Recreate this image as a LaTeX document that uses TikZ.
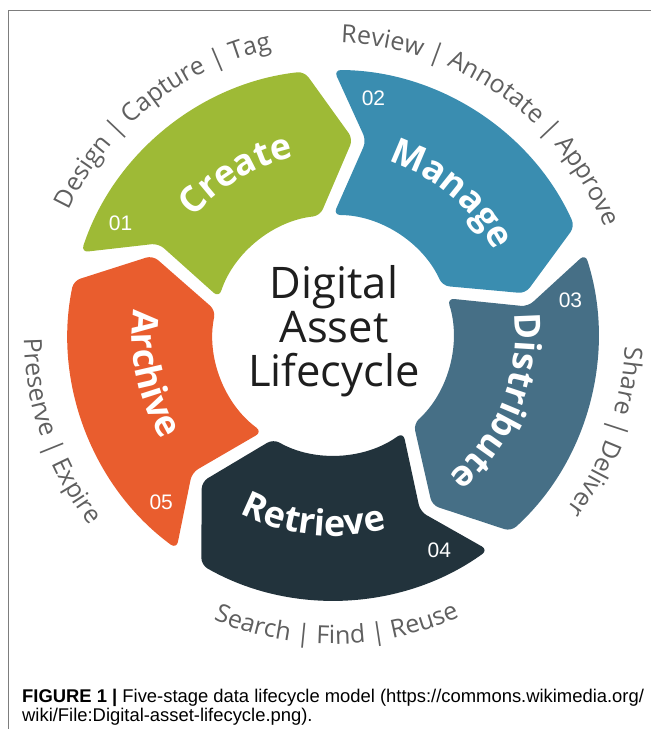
\documentclass[tikz,border=0pt]{standalone}
\usepackage{fontspec}
\usepackage{tikz}
\usetikzlibrary{decorations.text,positioning}

\newfontfamily\opensans{Open Sans}
\newfontfamily\arialsans{Liberation Sans}

\definecolor{creategreen}{RGB}{158,186,54}
\definecolor{manageblue}{RGB}{58,141,176}
\definecolor{distslate}{RGB}{70,111,134}
\definecolor{retrievedark}{RGB}{34,51,60}
\definecolor{archiveorange}{RGB}{233,93,46}
\definecolor{taggray}{RGB}{95,95,95}
\definecolor{titleblack}{RGB}{30,30,30}
\definecolor{framegray}{RGB}{125,125,125}

\newcommand{\namefont}{\opensans\bfseries\fontsize{36}{36}\selectfont\color{white}}
\newcommand{\tagfont}{\opensans\fontsize{25}{25}\selectfont\color{taggray}}

\tikzset{
    stagebox/.style={rounded corners=7pt},
    numlabel/.style={text=white, inner sep=0pt, font=\arialsans\fontsize{21}{21}\selectfont},
    ringtext/.style={decorate, decoration={text along path, text format delimiters={[}{]}, text align=center, text={#1}}},
    captext/.style={inner sep=0pt, anchor=base west, text=black, font=\arialsans\fontsize{18.4}{18.4}\selectfont}
}

\begin{document}
\begin{tikzpicture}[x=1pt,y=1pt]
    \useasboundingbox (0,0) rectangle (651,729);
    % frame
    \draw[framegray, line width=0.8pt] (8,0) -- (8,719) -- (651,719);

    \coordinate (ctr) at (333,394);
    \begin{scope}[shift={(ctr)}]
    % the five arrows
    \foreach \ang/\col/\num [count=\i] in {129/creategreen/01, 57/manageblue/02, -15/distslate/03, -87/retrievedark/04, 201/archiveorange/05}{
        \pgfmathsetmacro{\sa}{\ang+32.8}
        \pgfmathsetmacro{\ea}{\ang-32.8}
        \fill[stagebox, fill=\col] (\sa:265) arc[start angle=\sa, end angle=\ea, radius=265]
            -- (\ea-12:197) -- (\ea:120) arc[start angle=\ea, end angle=\sa, radius=120]
            -- (\sa-9.5:197) -- cycle;
        \node[numlabel] (num\i) at (\sa-9.5:240) {\num};
    }
    % stage names
    \path[ringtext={[\namefont]Create}] (161:182) arc[start angle=161, end angle=81, radius=182];
    \path[ringtext={[\namefont]Manage}] (90:182) arc[start angle=90, end angle=10, radius=182];
    \path[ringtext={[\namefont]Distribute}] (18:182) arc[start angle=18, end angle=-62, radius=182];
    \path[ringtext={[\namefont]Retrieve}] (-136:201) arc[start angle=-136, end angle=-56, radius=201];
    \path[ringtext={[\namefont]Archive}] (152:201) arc[start angle=152, end angle=232, radius=201];
    % tasks round the ring
    \path[ringtext={[\tagfont]Design | Capture | Tag}] (168.4:292) arc[start angle=168.4, end angle=88.4, radius=292];
    \path[ringtext={[\tagfont]Review | Annotate | Approve}] (95:292) arc[start angle=95, end angle=15, radius=292];
    \path[ringtext={[\tagfont]Share | Deliver}] (20.5:292) arc[start angle=20.5, end angle=-59.5, radius=292];
    \path[ringtext={[\tagfont]Search | Find | Reuse}] (-129.3:309) arc[start angle=-129.3, end angle=-49.3, radius=309];
    \path[ringtext={[\tagfont]Preserve | Expire}] (159.3:309) arc[start angle=159.3, end angle=239.3, radius=309];
    \end{scope}

    \node[font=\opensans\fontsize{43.5}{44}\selectfont, align=center, text=titleblack] (title) at (334,398) {Digital\\Asset\\Lifecycle};

    \node[captext] (cap1) at (22,27) {\textbf{FIGURE 1 |} Five-stage data lifecycle model (https://commons.wikimedia.org/};
    \node[captext] (cap2) at (22,7) {wiki/File:Digital-asset-lifecycle.png).};
\end{tikzpicture}
\end{document}
